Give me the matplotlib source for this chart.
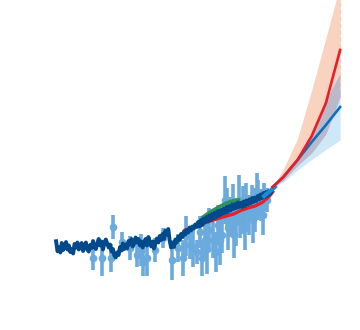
import numpy as np
import matplotlib
matplotlib.use("Agg")
import matplotlib.pyplot as plt

# sea level, mm, relative to ~2005

# long reconstruction (every 2 years from 1700)
recon_years = np.arange(1700, 2005, 2)
recon_mm = [-205, -245, -230, -250, -212, -240, -226, -208, -238, -222,
            -248, -236, -254, -216, -230, -210, -238, -224, -212, -244,
            -226, -210, -238, -246, -220, -232, -204, -226, -236, -214,
            -196, -222, -206, -238, -212, -198, -214, -230, -218, -246,
            -236, -262, -270, -250, -260, -228, -242, -214, -236, -218,
            -234, -204, -218, -196, -226, -214, -190, -210, -196, -222,
            -206, -230, -212, -196, -222, -188, -208, -226, -206, -234,
            -212, -194, -210, -184, -200, -176, -196, -162, -178, -156,
            -204, -230, -212, -228, -198, -210, -186, -200, -176, -188,
            -166, -178, -160, -170, -150, -162, -146, -154, -138, -148,
            -128, -146, -120, -140, -114, -130, -108, -126, -102, -120,
            -96, -114, -90, -108, -84, -102, -80, -96, -74, -92,
            -68, -88, -64, -82, -58, -76, -56, -72, -50, -68,
            -52, -68, -46, -64, -42, -58, -38, -54, -32, -48,
            -30, -44, -24, -38, -18, -32, -12, -28, -8, -22,
            -4, -14, 0]

# proxy points with error bars
proxy_years = [1752, 1765, 1777, 1780, 1793, 1804, 1814, 1820, 1823, 1828,
               1839, 1851, 1863, 1872, 1879, 1883, 1889, 1893, 1899, 1903,
               1906, 1910, 1912, 1915, 1921, 1925, 1928, 1931, 1934, 1938,
               1940, 1942, 1945, 1949, 1951, 1954, 1957, 1959, 1963, 1966,
               1968, 1972, 1976, 1978, 1980, 1983, 1985, 1989, 1991, 1993,
               1997]
proxy_mm = [-272, -272, -272, -148, -208, -232, -260, -240, -288, -272,
            -240, -192, -280, -232, -272, -184, -220, -228, -248, -168,
            -272, -200, -236, -160, -200, -248, -140, -200, -180, -40,
            -70, -152, -108, -80, -180, -128, -40, -120, -80, -150,
            -60, -100, -52, -120, -80, -10, -40, -60, -100, -28,
            -40]
proxy_err = [48, 72, 56, 48, 40, 48, 48, 64, 56, 72,
             48, 40, 80, 56, 72, 80, 56, 80, 48, 64,
             72, 72, 100, 88, 72, 80, 80, 100, 72, 96,
             80, 88, 80, 104, 90, 96, 100, 72, 96, 90,
             88, 80, 72, 90, 88, 80, 80, 64, 80, 56,
             48]

# tide gauge records
tg_years = [1882, 1890, 1900, 1910, 1920, 1930, 1940, 1950, 1960, 1970, 1980, 1990, 2000, 2005]
tg_mm = [-160, -152, -142, -130, -122, -112, -104, -96, -82, -72, -64, -50, -26, -8]

green_years = [1907, 1912, 1917, 1922, 1927, 1932, 1937, 1942, 1947, 1952, 1957]
green_mm = [-108, -98, -88, -80, -72, -64, -56, -50, -45, -42, -40]

# satellite altimetry
sat_years = [1993, 1996, 2000, 2003, 2008]
sat_mm = [-24, -16, -8, 0, 12]

# projections
proj_years = [2005, 2020, 2040, 2060, 2080, 2100]
red_proj = [12, 52, 120, 216, 348, 560]
red_hi = [12, 84, 205, 400, 608, 820]
red_lo = [12, 38, 98, 148, 224, 372]
blue_proj = [12, 52, 120, 192, 260, 332]
blue_hi = [12, 60, 125, 225, 360, 468]
blue_lo = [8, 32, 80, 122, 162, 200]

fig = plt.figure(figsize=(3.6, 3.3), dpi=100)
ax = fig.add_axes([0, 0, 1, 1])
ax.axis('off')

ax.fill_between(proj_years, red_lo, red_hi, color='#f9d2c0', lw=0, zorder=1)
ax.fill_between(proj_years, blue_lo, blue_hi, color='#cfe8f8', lw=0, zorder=1)
ax.fill_between(proj_years, red_lo, blue_hi, color='#b9b9c9', lw=0, zorder=2)
ax.vlines(2100.5, 400, 800, colors='#f6cdbb', linestyles=(0, (3, 2)), lw=1, zorder=2)

ax.errorbar(proxy_years, proxy_mm, yerr=proxy_err, fmt='o', color='#6aaadd',
            ms=4.5, elinewidth=2.6, capsize=0, zorder=3)
ax.plot(tg_years, tg_mm, color='#e8202a', lw=2.4, zorder=4)
ax.plot(green_years, green_mm, color='#2e9157', lw=2.6, zorder=4)
ax.plot(recon_years, recon_mm, color='#004a8b', lw=2.8, zorder=5)
ax.plot(sat_years, sat_mm, color='#1a8fd8', lw=3.0, zorder=6)

ax.plot(proj_years, blue_proj, color='#0a70c0', lw=1.9, zorder=6)
ax.plot(proj_years, red_proj, color='#ec1c24', lw=1.9, zorder=7)

ax.set_xlim(1621, 2128)
ax.set_ylim(-560, 760)

fig.savefig('out.png', dpi=100)
